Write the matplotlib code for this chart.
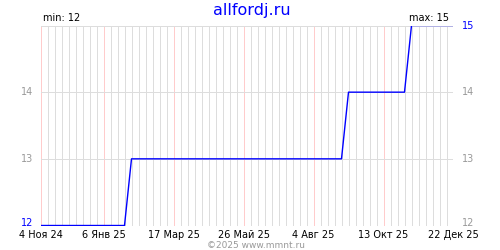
import datetime as dt
import matplotlib
matplotlib.use('Agg')
import matplotlib.pyplot as plt

# data (weekly samples)
dates = [dt.date(2024, 11, 4), dt.date(2025, 1, 27), dt.date(2025, 2, 3),
         dt.date(2025, 9, 1), dt.date(2025, 9, 8), dt.date(2025, 11, 3),
         dt.date(2025, 11, 10), dt.date(2025, 12, 22)]
values = [12, 12, 13, 13, 14, 14, 15, 15]

x_start = dt.date(2024, 11, 4)
x_end = dt.date(2025, 12, 22)
label_dates = [dt.date(2024, 11, 4), dt.date(2025, 1, 6), dt.date(2025, 3, 17),
               dt.date(2025, 5, 26), dt.date(2025, 8, 4), dt.date(2025, 10, 13),
               dt.date(2025, 12, 22)]
months_ru = ['Янв', 'Фев', 'Мар', 'Апр', 'Май', 'Июн',
             'Июл', 'Авг', 'Сен', 'Окт', 'Ноя', 'Дек']
y_ticks = [12, 13, 14, 15]
title = 'allfordj.ru'
footer = '©2025 www.mmnt.ru'

plt.rcParams['font.family'] = ['DejaVu Sans']
fig = plt.figure(figsize=(5, 2.5), dpi=100)
ax = fig.add_axes([40.5 / 500, 24.5 / 250, 413 / 500, 200 / 250])

# weekly grid, red every label date
d = x_start
while d <= x_end:
    c = '#ffcccc' if d in label_dates else '#dddddd'
    ax.axvline(d, color=c, lw=0.72, zorder=1, antialiased=False)
    d += dt.timedelta(days=7)
for v in y_ticks:
    ax.axhline(v, color='#dddddd', lw=0.72, zorder=2, antialiased=False)

ax.plot(dates, values, color='#0000ff', lw=1, zorder=3)

ax.set_xlim(x_start, x_end)
ax.set_ylim(min(y_ticks), max(y_ticks))
for s in ax.spines.values():
    s.set_visible(False)
ax.set_xticks(label_dates)
ax.set_xticklabels(['%d %s %s' % (t.day, months_ru[t.month - 1], str(t.year)[2:])
                    for t in label_dates], fontsize=7, color='black')
ax.tick_params(axis='x', length=0, pad=3)
ax.set_yticks([])

vmin, vmax = min(values), max(values)
for v in y_ticks:
    dy = 2 if v == min(y_ticks) else 0
    if v != vmax:
        ax.annotate(str(v), (0, v), xycoords=ax.get_yaxis_transform(),
                    xytext=(-5, dy), textcoords='offset points',
                    ha='right', va='center', fontsize=7,
                    color='#0000ff' if v == vmin else '#999999')
    ax.annotate(str(v), (1, v), xycoords=ax.get_yaxis_transform(),
                xytext=(6, dy), textcoords='offset points',
                ha='left', va='center', fontsize=7,
                color='#0000ff' if v == vmax else '#999999')

ax.text(0.005, 1.015, 'min: %d' % vmin, transform=ax.transAxes,
        ha='left', va='bottom', fontsize=7)
ax.text(0.99, 1.015, 'max: %d' % vmax, transform=ax.transAxes,
        ha='right', va='bottom', fontsize=7)

fig.text(0.503, 0.99, title, ha='center', va='top', fontsize=11.5, color='#0000ff')
fig.text(0.512, 0.002, footer, ha='center', va='bottom', fontsize=6.5, color='#999999')

fig.savefig('out.png', dpi=100)
